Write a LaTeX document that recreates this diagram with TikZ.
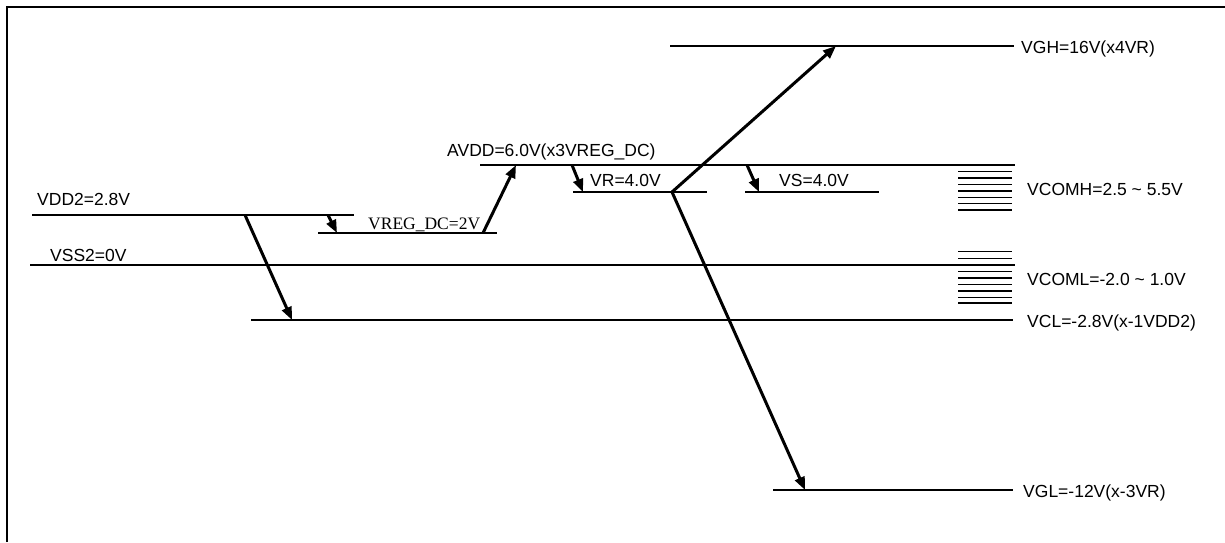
\documentclass[tikz,border=0pt]{standalone}
\usepackage{fontspec}
\setmainfont{Liberation Sans}
\newfontfamily\timesfont{Liberation Serif}
\usetikzlibrary{arrows.meta}
\tikzset{
  level/.style={line width=2pt},
  hatch/.style={line width=1.4pt},
  frameline/.style={line width=2.7pt},
  conv/.style={line width=3pt,-{Triangle[length=13pt,width=10pt]}},
  lbl/.style={anchor=base west,inner sep=0pt,font=\fontsize{17.5}{21}\selectfont},
  lbls/.style={anchor=base west,inner sep=0pt,font=\timesfont\fontsize{17.5}{21}\selectfont}
}
\begin{document}
\begin{tikzpicture}[x=1pt,y=-1pt]
\useasboundingbox (0,0) rectangle (1225,542);
% frame
\draw[frameline] (7,542) -- (7,7) -- (1225,7);
% levels
\draw[level] (670,46) -- (1014,46);   % VGH
\draw[level] (480,165) -- (1015,165); % AVDD
\draw[level] (573,192) -- (707,192);  % VR
\draw[level] (745,192) -- (879,192);  % VS
\draw[level] (32,215) -- (354,215);   % VDD2
\draw[level] (318,233) -- (497,233);  % VREG_DC
\draw[level] (30,265) -- (1015,265);  % VSS2
\draw[level] (251,320) -- (1013,320); % VCL
\draw[level] (773,490) -- (1013,490); % VGL
% hatches
\foreach \y in {171.7,178.1,184.5,190.9,197.3,203.7,210.1}
  \draw[hatch] (958,\y) -- (1012,\y);
\foreach \y in {251.7,258.3,271.7,278.1,284.5,290.9,297.3,303.0}
  \draw[hatch] (958,\y) -- (1012,\y);
% labels
\node[lbl] (tvdd) at (37,205.5) {VDD2=2.8V};
\node[lbl] (tvss) at (50,261) {VSS2=0V};
\node[lbls] (treg) at (368,229.5) {VREG\_DC=2V};
\node[lbl] (tavdd) at (447,156.5) {AVDD=6.0V(x3VREG\_DC)};
\node[lbl] (tvr) at (590,186) {VR=4.0V};
\node[lbl] (tvs) at (779,186) {VS=4.0V};
\node[lbl] (tvgh) at (1021,53) {VGH=16V(x4VR)};
\node[lbl] (tvcomh) at (1027,195.5) {VCOMH=2.5 \char`\~{} 5.5V};
\node[lbl] (tvcoml) at (1027,285) {VCOML=-2.0 \char`\~{} 1.0V};
\node[lbl] (tvcl) at (1027,327) {VCL=-2.8V(x-1VDD2)};
\node[lbl] (tvgl) at (1023,497) {VGL=-12V(x-3VR)};
% arrow endpoints
\coordinate (a1s) at (245,215); \coordinate (a1e) at (292,320);
\coordinate (a2s) at (328,215); \coordinate (a2e) at (337,233);
\coordinate (a3s) at (483,233); \coordinate (a3e) at (516,165);
\coordinate (a4s) at (572,165); \coordinate (a4e) at (583,192);
\coordinate (a5s) at (747,165); \coordinate (a5e) at (759,192);
\coordinate (vr) at (672,192);
\coordinate (a6e) at (836,46);
\coordinate (a7e) at (805,490);
% arrows
\draw[conv] (a1s) -- (a1e);
\draw[conv] (a2s) -- (a2e);
\draw[conv] (a3s) -- (a3e);
\draw[conv] (a4s) -- (a4e);
\draw[conv] (a5s) -- (a5e);
\draw[conv] (vr) -- (a6e);
\draw[conv] (vr) -- (a7e);
\end{tikzpicture}
\end{document}
